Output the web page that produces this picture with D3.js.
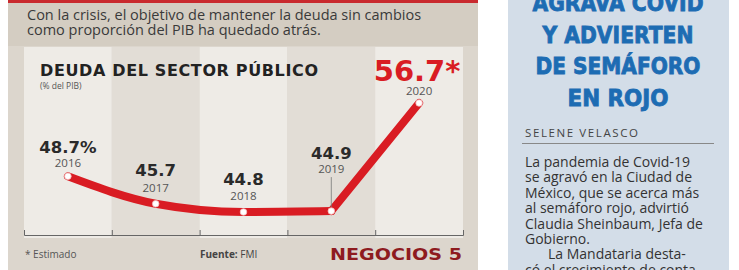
<!DOCTYPE html>
<html>
<head>
<meta charset="utf-8">
<script src="https://cdn.jsdelivr.net/npm/d3@7/dist/d3.min.js"></script>
<style>
  html, body { margin: 0; padding: 0; background: #fff; }
  svg { display: block; font-family: "Open Sans", "Noto Sans", sans-serif; }
</style>
</head>
<body>
<svg id="chart" width="739" height="270"></svg>
<script>
// chart data
var years = ["2016", "2017", "2018", "2019", "2020"];
var debt = [48.7, 45.7, 44.8, 44.9, 56.7];
var valueLabels = ["48.7%", "45.7", "44.8", "44.9", "56.7*"];

// texts
var subtitleLines = ["Con la crisis, el objetivo de mantener la deuda sin cambios",
                     "como proporción del PIB ha quedado atrás."];
var headlineLines = ["AGRAVA COVID", "Y ADVIERTEN", "DE SEMÁFORO", "EN ROJO"];
var bodyLines = ["La pandemia de Covid-19", "se agravó en la Ciudad de",
                 "México, que se acerca más", "al semáforo rojo, advirtió",
                 "Claudia Sheinbaum, Jefa de", "Gobierno.",
                 "La Mandataria desta-", "có el crecimiento de conta-"];

var svg = d3.select("#chart");
var red = "#d91c23";
var heavy = "'DejaVu Sans', sans-serif";

// ---- left panel ----
svg.append("rect").attr("x", 8).attr("y", 0).attr("width", 470).attr("height", 270).attr("fill", "#dcd6cd");
svg.append("rect").attr("x", 8).attr("y", 3).attr("width", 470).attr("height", 43).attr("fill", "#d4cdc2");
svg.append("rect").attr("x", 8).attr("y", 0).attr("width", 470).attr("height", 3).attr("fill", "#c92a2e");

svg.selectAll(".sub").data(subtitleLines).enter().append("text")
    .attr("x", 27).attr("y", function(d, i){ return 20 + i * 15; })
    .attr("font-size", 14.5).attr("fill", "#3a3a3a")
    .text(function(d){ return d; });

var x = d3.scaleBand().domain(years).range([24, 463]);
var y = d3.scaleLinear().domain([44.8, 56.7]).range([212, 103]);

// alternating columns
svg.selectAll(".band").data(years).enter().append("rect")
    .attr("x", function(d){ return x(d); })
    .attr("y", 47)
    .attr("width", x.bandwidth())
    .attr("height", 191)
    .attr("fill", function(d, i){ return i % 2 ? "#e2ddd6" : "#eeebe6"; });

// axis with ticks on the column edges
var xb = d3.scaleLinear().domain([0, years.length]).range(x.range());
svg.append("g").attr("transform", "translate(0,235)")
    .call(d3.axisBottom(xb).tickValues(d3.range(years.length + 1)).tickSizeInner(-5).tickSizeOuter(-5).tickFormat(""))
    .call(function(g){ g.selectAll("path, line").attr("stroke", "#666").attr("stroke-width", 1); });

svg.append("text").attr("x", 40).attr("y", 76)
    .style("font-family", heavy).attr("font-size", 16).attr("font-weight", 700).attr("fill", "#222")
    .attr("textLength", 278).attr("lengthAdjust", "spacing")
    .text("DEUDA DEL SECTOR PÚBLICO");
svg.append("text").attr("x", 40).attr("y", 89)
    .attr("font-size", 8.5).attr("fill", "#555")
    .text("(% del PIB)");

var cx = function(i){ return x(years[i]) + x.bandwidth() / 2; };

// line: smooth through 2016-2019, straight up to 2020
var n = years.length;
var smooth = d3.line().x(function(d, i){ return cx(i); }).y(function(d){ return y(d); }).curve(d3.curveMonotoneX);
svg.append("path").attr("d", smooth(debt.slice(0, n - 1)))
    .attr("fill", "none").attr("stroke", red).attr("stroke-width", 8).attr("stroke-linecap", "round");
svg.append("line")
    .attr("x1", cx(n - 2)).attr("y1", y(debt[n - 2]))
    .attr("x2", cx(n - 1)).attr("y2", y(debt[n - 1]))
    .attr("stroke", red).attr("stroke-width", 8).attr("stroke-linecap", "round");

svg.selectAll(".pt").data(debt).enter().append("circle")
    .attr("cx", function(d, i){ return cx(i); })
    .attr("cy", function(d){ return y(d); })
    .attr("r", 3.3).attr("fill", "#fff").attr("stroke", "#f2b8b8").attr("stroke-width", 0.8);

// labels
var yearOff = [9, 12, 12, 38, 8];
var valOff = [23, 28, 27, 52, 22];
years.forEach(function(yr, i){
    var px = cx(i), py = y(debt[i]);
    var last = i === n - 1;
    svg.append("text").attr("x", px).attr("y", py - yearOff[i])
        .attr("text-anchor", "middle").attr("font-size", 11.5).attr("fill", "#555")
        .text(yr);
    svg.append("text").attr("x", last ? px - 2 : px).attr("y", py - valOff[i])
        .attr("text-anchor", "middle")
        .style("font-family", heavy)
        .attr("font-size", last ? 29 : 16.5).attr("font-weight", 700)
        .attr("fill", last ? red : "#2a2a2a")
        .text(valueLabels[i]);
});
// leader for 2019
svg.append("line")
    .attr("x1", cx(3)).attr("x2", cx(3))
    .attr("y1", y(debt[3]) - 34).attr("y2", y(debt[3]) - 4)
    .attr("stroke", "#777").attr("stroke-width", 0.8);

// footer
svg.append("text").attr("x", 25).attr("y", 258).attr("font-size", 10).attr("fill", "#555").text("* Estimado");
var src = svg.append("text").attr("x", 200).attr("y", 258).attr("font-size", 10).attr("fill", "#444");
src.append("tspan").attr("font-weight", 700).text("Fuente: ");
src.append("tspan").text("FMI");
svg.append("text").attr("x", 330).attr("y", 260)
    .style("font-family", heavy).attr("font-size", 16.5).attr("font-weight", 700)
    .attr("fill", "#8e1b1f").attr("textLength", 132).attr("lengthAdjust", "spacingAndGlyphs")
    .text("NEGOCIOS 5");

// ---- right article column ----
svg.append("rect").attr("x", 508).attr("y", 0).attr("width", 221).attr("height", 270).attr("fill", "#d3dde8");
var headW = [171, 151, 165, 101];
svg.selectAll(".head").data(headlineLines).enter().append("text")
    .attr("x", 618).attr("y", function(d, i){ return 11 + i * 31.5; })
    .attr("text-anchor", "middle")
    .style("font-family", heavy)
    .attr("font-weight", 700)
    .attr("font-size", 23.5).attr("fill", "#1d6cb3")
    .attr("stroke", "#1d6cb3").attr("stroke-width", 0.9)
    .attr("textLength", function(d, i){ return headW[i]; }).attr("lengthAdjust", "spacingAndGlyphs")
    .text(function(d){ return d; });

svg.append("text").attr("x", 525).attr("y", 137).attr("font-size", 11.5).attr("fill", "#444")
    .attr("textLength", 113).attr("lengthAdjust", "spacing").text("SELENE VELASCO");
svg.append("line").attr("x1", 522).attr("x2", 714).attr("y1", 143.5).attr("y2", 143.5).attr("stroke", "#888").attr("stroke-width", 1);

svg.selectAll(".body").data(bodyLines).enter().append("text")
    .attr("x", function(d, i){ return i === 6 ? 548 : 525; })
    .attr("y", function(d, i){ return 167 + i * 15.4; })
    .attr("font-size", 14).attr("fill", "#333")
    .text(function(d){ return d; });
</script>
</body>
</html>
